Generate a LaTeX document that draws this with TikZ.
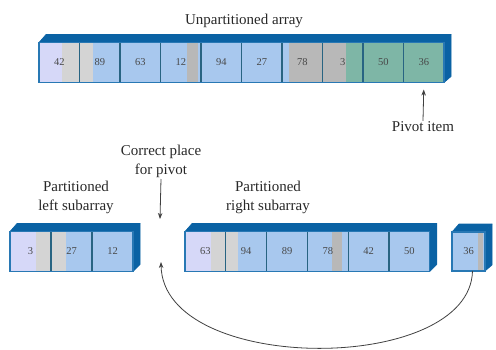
\documentclass[tikz,border=0pt]{standalone}
\usepackage{fontspec}
\setmainfont{Liberation Serif}
\usetikzlibrary{calc,arrows.meta}
\definecolor{lav}{RGB}{214,216,248}
\definecolor{lgray}{RGB}{212,212,212}
\definecolor{cblue}{RGB}{168,200,238}
\definecolor{mgray}{RGB}{184,184,184}
\definecolor{cgreen}{RGB}{126,182,166}
\definecolor{bevelc}{RGB}{10,98,164}
\definecolor{cellline}{RGB}{40,100,130}
\definecolor{frameline}{RGB}{40,120,180}
\definecolor{txt}{RGB}{40,40,40}
\tikzset{
  cell/.style={draw=cellline, line width=1.1pt, minimum height=40pt, inner sep=0pt, outer sep=0pt,
    anchor=west, text=txt!85, font=\fontsize{10.5}{12}\selectfont},
  strip/.style n args={3}{path picture={\fill[#1] ([xshift=#2]path picture bounding box.north west) rectangle ([xshift=#3]path picture bounding box.south west);}},
  bevelface/.style={fill=bevelc, draw=bevelc, line width=0.6pt, line join=round},
  frame/.style={draw=frameline, line width=1.2pt},
  lbl/.style={text=txt, font=\fontsize{15}{19}\selectfont, inner sep=1pt, align=center},
  arr/.style={draw=black!75, line width=0.8pt, -{Stealth[length=6pt,width=4.5pt]}},
}
\begin{document}
\begin{tikzpicture}[x=1pt,y=-1pt]
\useasboundingbox (0,0) rectangle (496,349);

% ---------- top array ----------
\begin{scope}[every node/.append style={minimum width=40.5pt}]
\node[cell, fill=lav, strip={lgray}{23pt}{40.5pt}] (t1) at (39,62.5) {42};
\node[cell, fill=cblue, strip={lgray}{0pt}{13pt}] (t2) at (t1.east) {89};
\node[cell, fill=cblue] (t3) at (t2.east) {63};
\node[cell, fill=cblue, strip={mgray}{26pt}{37pt}] (t4) at (t3.east) {12};
\node[cell, fill=cblue] (t5) at (t4.east) {94};
\node[cell, fill=cblue] (t6) at (t5.east) {27};
\node[cell, fill=mgray, strip={cblue}{0pt}{7pt}] (t7) at (t6.east) {78};
\node[cell, fill=cgreen, strip={mgray}{0pt}{23pt}] (t8) at (t7.east) {3};
\node[cell, fill=cgreen] (t9) at (t8.east) {50};
\node[cell, fill=cgreen] (t10) at (t9.east) {36};
\end{scope}
\draw[green!40!white, line width=1pt] ($(t1.north west)+(7,-8.5)$) -- ($(t10.north east)+(7,-8.5)$);
\path[bevelface] (t1.north west) -- ++(7,-8) -- ($(t10.north east)+(7,-8)$) -- (t10.north east) -- cycle;
\path[bevelface] (t10.north east) -- ++(7,-8) -- ++(0,42) -- (t10.south east) -- cycle;
\draw[frame] (t1.north west) rectangle (t10.south east);

% ---------- left subarray ----------
\begin{scope}[every node/.append style={minimum width=41pt, minimum height=39pt}]
\node[cell, fill=lav, strip={lgray}{26pt}{41pt}] (l1) at (10,251.5) {3};
\node[cell, fill=cblue, strip={lgray}{0pt}{15pt}] (l2) at (l1.east) {27};
\node[cell, fill=cblue] (l3) at (l2.east) {12};
\end{scope}
\path[bevelface] (l1.north west) -- ++(7,-8) -- ($(l3.north east)+(7,-8)$) -- (l3.north east) -- cycle;
\path[bevelface] (l3.north east) -- ++(7,-8) -- ++(0,41) -- (l3.south east) -- cycle;
\draw[frame] (l1.north west) rectangle (l3.south east);

% ---------- right subarray ----------
\begin{scope}[every node/.append style={minimum width=40.8pt, minimum height=39pt}]
\node[cell, fill=lav, strip={lgray}{26pt}{40.8pt}] (r1) at (185,251.5) {63};
\node[cell, fill=cblue, strip={lgray}{0pt}{12pt}] (r2) at (r1.east) {94};
\node[cell, fill=cblue] (r3) at (r2.east) {89};
\node[cell, fill=cblue, strip={mgray}{25pt}{35pt}] (r4) at (r3.east) {78};
\node[cell, fill=cblue] (r5) at (r4.east) {42};
\node[cell, fill=cblue] (r6) at (r5.east) {50};
\end{scope}
\path[bevelface] (r1.north west) -- ++(7,-8) -- ($(r6.north east)+(7,-8)$) -- (r6.north east) -- cycle;
\path[bevelface] (r6.north east) -- ++(7,-8) -- ++(0,41) -- (r6.south east) -- cycle;
\draw[frame] (r1.north west) rectangle (r6.south east);

% ---------- pivot cell ----------
\node[cell, minimum width=33pt, minimum height=39pt, fill=cblue, strip={mgray}{26pt}{31pt}] (p1) at (452,251.5) {36};
\path[bevelface] (p1.north west) -- ++(7,-8) -- ($(p1.north east)+(7,-8)$) -- (p1.north east) -- cycle;
\path[bevelface] (p1.north east) -- ++(7,-8) -- ++(0,41) -- (p1.south east) -- cycle;
\draw[frame] (p1.north west) rectangle (p1.south east);

% ---------- labels ----------
\node[lbl] (title) at (244,21) {Unpartitioned array};
\node[lbl] (pivlbl) at (423,127) {Pivot item};
\node[lbl] (corr) at (161,161.5) {Correct place\\for pivot};
\node[lbl] (leftlbl) at (76,197.5) {Partitioned\\left subarray};
\node[lbl] (rightlbl) at (268,197.5) {Partitioned\\right subarray};

% ---------- arrows ----------
\coordinate (slottop) at (160,219);
\coordinate (slotbot) at (161,262);
\draw[arr] (pivlbl.north) -- ([yshift=-7pt]t10.south);
\draw[arr] (corr.south) -- (slottop);
\draw[arr] ([xshift=4pt]p1.south) .. controls (470,375) and (163,375) .. (slotbot);
\end{tikzpicture}
\end{document}
